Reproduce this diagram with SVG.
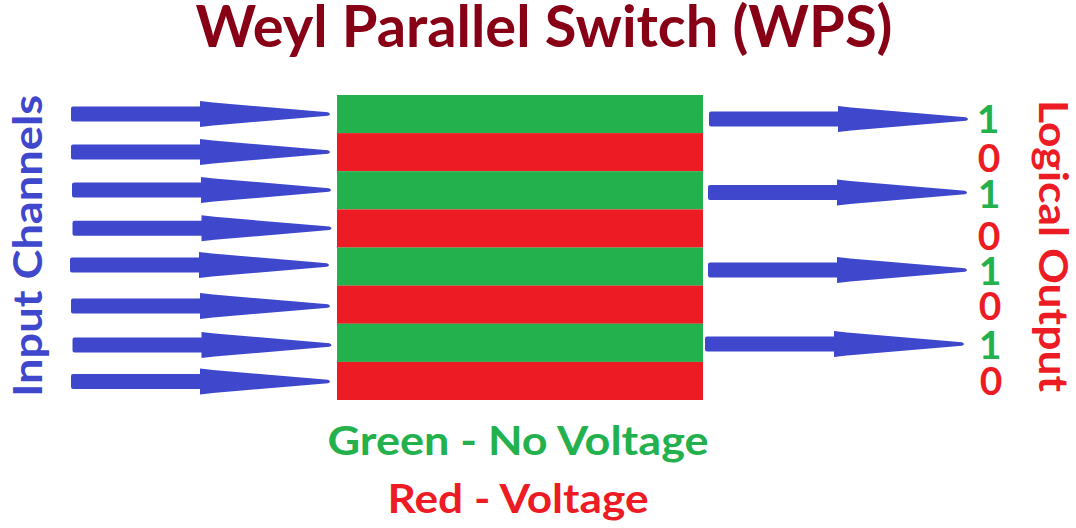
<svg xmlns="http://www.w3.org/2000/svg" xmlns:xlink="http://www.w3.org/1999/xlink" width="1076" height="528" viewBox="0 0 1076 528">
<style>
text{font-family:Lato,"Open Sans","Liberation Sans",sans-serif;font-weight:bold}
.title{fill:#880015;font-size:58px}
.blue{fill:#3F48CC}
.g{fill:#22B14C}
.r{fill:#ED1C24}
.lbl{font-size:40px}
.dig{font-size:39px;text-anchor:middle}
.arrow{fill:#3F48CC}
</style>
<defs>
<path id="arr" d="M2,-7.5 H129 V-13 L142,-11.5 L257,-1.8 Q261,0 257,1.8 L142,11.5 L129,13 V7.5 H2 Q0,7.5 0,5.5 V-5.5 Q0,-7.5 2,-7.5 Z"/>
</defs>
<rect width="1076" height="528" fill="#ffffff"/>
<g id="title">
<text class="title" x="544" y="47" text-anchor="middle" textLength="697" lengthAdjust="spacingAndGlyphs">Weyl Parallel Switch (WPS)</text>
</g>
<g id="input-label">
<text class="lbl blue" transform="translate(42,246) rotate(-90)" text-anchor="middle" textLength="302" lengthAdjust="spacingAndGlyphs">Input Channels</text>
</g>
<g id="switch">
<rect x="337" y="95" width="366" height="38.2" class="g"/>
<rect x="337" y="133.1" width="366" height="38.2" class="r"/>
<rect x="337" y="171.2" width="366" height="38.2" class="g"/>
<rect x="337" y="209.4" width="366" height="38.2" class="r"/>
<rect x="337" y="247.5" width="366" height="38.2" class="g"/>
<rect x="337" y="285.6" width="366" height="38.2" class="r"/>
<rect x="337" y="323.7" width="366" height="38.2" class="g"/>
<rect x="337" y="361.9" width="366" height="38.1" class="r"/>
</g>
<g id="connectors" class="arrow">
<use xlink:href="#arr" href="#arr" transform="translate(71,114)"/>
<use xlink:href="#arr" href="#arr" transform="translate(71,152)"/>
<use xlink:href="#arr" href="#arr" transform="translate(72,190)"/>
<use xlink:href="#arr" href="#arr" transform="translate(72.5,228.3)"/>
<use xlink:href="#arr" href="#arr" transform="translate(70,265)"/>
<use xlink:href="#arr" href="#arr" transform="translate(71,306)"/>
<use xlink:href="#arr" href="#arr" transform="translate(72.5,345)"/>
<use xlink:href="#arr" href="#arr" transform="translate(71,381.5)"/>
<use xlink:href="#arr" href="#arr" transform="translate(709,119)"/>
<use xlink:href="#arr" href="#arr" transform="translate(708,192.5)"/>
<use xlink:href="#arr" href="#arr" transform="translate(708,270)"/>
<use xlink:href="#arr" href="#arr" transform="translate(705,344)"/>
</g>
<g id="outputs">
<text class="dig g" x="988" y="133">1</text>
<text class="dig r" x="989" y="172">0</text>
<text class="dig g" x="989" y="208">1</text>
<text class="dig r" x="989" y="250">0</text>
<text class="dig g" x="990" y="285">1</text>
<text class="dig r" x="990" y="320">0</text>
<text class="dig g" x="990" y="359">1</text>
<text class="dig r" x="991" y="395">0</text>
</g>
<g id="output-label">
<text class="lbl r" transform="translate(1039,246) rotate(90)" text-anchor="middle" textLength="292" lengthAdjust="spacingAndGlyphs">Logical Output</text>
</g>
<g id="legend">
<text class="lbl g" x="518" y="455" font-size="39" text-anchor="middle" textLength="381" lengthAdjust="spacingAndGlyphs">Green - No Voltage</text>
<text class="lbl r" x="518" y="513" text-anchor="middle" textLength="261" lengthAdjust="spacingAndGlyphs">Red - Voltage</text>
</g>
</svg>
